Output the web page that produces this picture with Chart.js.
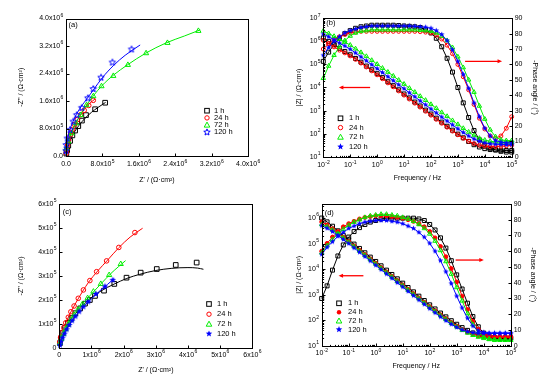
<!DOCTYPE html>
<html><head><meta charset="utf-8">
<script src="https://cdn.jsdelivr.net/npm/chart.js@4/dist/chart.umd.min.js"></script>
<style>
html,body{margin:0;padding:0;background:#fff;}
#wrap{position:relative;width:543px;height:383px;overflow:hidden;}
#wrap canvas{position:absolute;left:0;top:0;}
</style></head><body>
<div id="wrap">
<canvas id="ca" width="543" height="383"></canvas>
<canvas id="cb" width="543" height="383"></canvas>
<canvas id="cc" width="543" height="383"></canvas>
<canvas id="cd" width="543" height="383"></canvas>
</div>
<script>
// ================= DATA =================
const seriesNames = ['1 h', '24 h', '72 h', '120 h'];

// ---- Panel (a): Nyquist  [Z', -Z''] in ohm.cm2 ----
const a1h   = [[8.6e5,1.55e6],[6.4e5,1.36e6],[4.4e5,1.19e6],[3.5e5,1.03e6],[2.7e5,8.7e5],[2.0e5,7.4e5],[1.4e5,6.0e5],[9e4,4.4e5],[5e4,3.0e5],[2.5e4,1.7e5],[8e3,7e4]];
const a24h  = [[6.0e5,1.62e6],[5.0e5,1.47e6],[4.0e5,1.33e6],[3.2e5,1.2e6],[2.5e5,1.06e6],[1.9e5,9.2e5],[1.4e5,7.7e5],[1.0e5,6.2e5],[6e4,4.7e5],[3.5e4,3.2e5],[1.5e4,1.8e5],[5e3,8e4]];
const a72h  = [[2.91e6,3.64e6],[2.23e6,3.29e6],[1.76e6,2.99e6],[1.36e6,2.65e6],[1.04e6,2.33e6],[7.8e5,2.03e6],[6.0e5,1.74e6],[4.5e5,1.48e6],[3.2e5,1.19e6],[2.2e5,9.5e5],[1.25e5,6.6e5],[5e4,4.2e5],[1e4,2.2e5]];
const a120h = [[1.44e6,3.1e6],[1.02e6,2.72e6],[7.7e5,2.28e6],[6.0e5,1.95e6],[4.8e5,1.68e6],[3.45e5,1.4e6],[2.35e5,1.19e6],[1.6e5,1.0e6],[8.8e4,7.6e5],[3e4,5.1e5],[5e3,3.2e5],[0,1.5e5]];
const a1hFit   = [[0,0],[2e4,1.2e5],[5e4,2.9e5],[1e5,4.8e5],[1.8e5,6.9e5],[2.8e5,8.8e5],[4.2e5,1.1e6],[5.6e5,1.27e6],[7e5,1.41e6],[8.7e5,1.56e6]];
const a24hFit  = [[0,0],[1.5e4,1.5e5],[5e4,3.6e5],[1e5,5.9e5],[1.8e5,8.6e5],[2.8e5,1.11e6],[4e5,1.35e6],[5.2e5,1.53e6],[6.4e5,1.66e6]];
const a72hFit  = [[0,0],[1e4,1.8e5],[5e4,4.2e5],[1.3e5,7.2e5],[2.4e5,1.02e6],[4e5,1.38e6],[6e5,1.75e6],[8e5,2.06e6],[1.05e6,2.36e6],[1.35e6,2.65e6],[1.75e6,2.99e6],[2.2e6,3.29e6],[2.6e6,3.49e6],[2.95e6,3.67e6]];
const a120hFit = [[0,0],[8e3,2.2e5],[3.5e4,5e5],[9e4,7.8e5],[1.7e5,1.05e6],[2.9e5,1.35e6],[4.4e5,1.63e6],[6e5,1.92e6],[8e5,2.28e6],[1.05e6,2.64e6],[1.3e6,2.93e6],[1.63e6,3.23e6]];

// ---- Panel (c): Nyquist ----
const c1h   = [[4.27e6,3.56e5],[3.62e6,3.46e5],[3.03e6,3.29e5],[2.53e6,3.14e5],[2.09e6,2.93e5],[1.71e6,2.67e5],[1.39e6,2.39e5],[1.11e6,2.17e5],[9.5e5,2.0e5],[8e5,1.85e5],[6.5e5,1.65e5],[5e5,1.45e5],[3.8e5,1.25e5],[2.7e5,1.05e5],[1.8e5,8.5e4],[1e5,6.2e4],[5e4,4e4],[2e4,2e4]];
const c24h  = [[2.35e6,4.81e5],[1.85e6,4.19e5],[1.47e6,3.63e5],[1.16e6,3.18e5],[9.5e5,2.81e5],[7.5e5,2.42e5],[5.9e5,2.07e5],[4.6e5,1.75e5],[3.6e5,1.51e5],[2.8e5,1.28e5],[2.0e5,1.05e5],[1.4e5,8.5e4],[8e4,6.5e4],[4e4,4.5e4],[1e4,2.5e4]];
const c72h  = [[1.91e6,3.5e5],[1.55e6,3.04e5],[1.29e6,2.67e5],[1.06e6,2.35e5],[8.8e5,2.08e5],[7.2e5,1.83e5],[5.8e5,1.6e5],[4.6e5,1.38e5],[3.6e5,1.17e5],[2.7e5,9.7e4],[1.9e5,7.8e4],[1.2e5,5.8e4],[6e4,3.8e4],[2e4,2e4]];
const c120h = [[1.66e6,2.83e5],[1.42e6,2.56e5],[1.14e6,2.25e5],[9e5,1.93e5],[7.5e5,1.72e5],[6.2e5,1.52e5],[5e5,1.32e5],[4e5,1.14e5],[3.1e5,9.6e4],[2.3e5,7.8e4],[1.6e5,6e4],[1e5,4.3e4],[5e4,2.7e4],[2e4,1.2e4]];
const c1hFit   = [[0,0],[5e4,3e4],[1.5e5,6.5e4],[3.3e5,1.15e5],[5.5e5,1.5e5],[7.5e5,1.8e5],[1.0e6,2.1e5],[1.3e6,2.38e5],[1.7e6,2.66e5],[2.1e6,2.9e5],[2.5e6,3.07e5],[3.0e6,3.23e5],[3.5e6,3.32e5],[4.0e6,3.35e5],[4.3e6,3.33e5],[4.48e6,3.28e5]];
const c24hFit  = [[0,1e4],[2e4,3.5e4],[8e4,6.5e4],[2e5,1.05e5],[3.6e5,1.5e5],[6e5,2.08e5],[9e5,2.72e5],[1.2e6,3.22e5],[1.5e6,3.66e5],[1.85e6,4.18e5],[2.2e6,4.62e5],[2.59e6,4.99e5]];
const c72hFit  = [[0,0],[5e4,3.3e4],[1.5e5,6.8e4],[3e5,1.05e5],[5e5,1.45e5],[7.5e5,1.88e5],[1.0e6,2.25e5],[1.3e6,2.68e5],[1.6e6,3.1e5],[1.85e6,3.4e5],[2.06e6,3.64e5]];
const c120hFit = [[0,0],[5e4,2.5e4],[1.5e5,5.5e4],[3e5,9.3e4],[5e5,1.32e5],[7.5e5,1.72e5],[1.0e6,2.05e5],[1.25e6,2.37e5],[1.5e6,2.65e5],[1.71e6,2.9e5]];

// ---- Bode frequencies (Hz) ----
const freqHz = [0.01,0.0158,0.0251,0.0398,0.0631,0.1,0.158,0.251,0.398,0.631,1,1.58,2.51,3.98,6.31,10,15.8,25.1,39.8,63.1,100,158,251,398,631,1000,1585,2512,3981,6310,10000,15849,25119,39811,63096,100000];

// ---- Panel (b): log10|Z| and -phase (deg) ----
const bLogZ1h   = [6.15,6.0,5.85,5.7,5.56,5.42,5.26,5.1,4.93,4.77,4.6,4.43,4.25,4.08,3.9,3.72,3.55,3.37,3.2,3.02,2.85,2.67,2.5,2.32,2.15,1.98,1.82,1.66,1.52,1.42,1.35,1.31,1.29,1.28,1.27,1.27];
const bLogZ24h  = [6.05,5.9,5.76,5.62,5.5,5.37,5.22,5.06,4.89,4.72,4.55,4.38,4.2,4.03,3.85,3.67,3.5,3.32,3.15,2.97,2.8,2.62,2.45,2.28,2.11,1.95,1.8,1.67,1.57,1.5,1.46,1.44,1.44,1.45,1.47,1.5];
const bLogZ72h  = [6.45,6.34,6.22,6.1,5.97,5.84,5.68,5.52,5.35,5.18,5.01,4.84,4.67,4.5,4.32,4.15,3.97,3.8,3.62,3.45,3.27,3.1,2.92,2.75,2.57,2.4,2.23,2.07,1.92,1.8,1.72,1.67,1.64,1.63,1.62,1.62];
const bLogZ120h = [6.32,6.2,6.07,5.93,5.8,5.66,5.5,5.33,5.16,4.99,4.82,4.65,4.47,4.3,4.12,3.95,3.77,3.6,3.42,3.25,3.07,2.9,2.72,2.55,2.38,2.21,2.05,1.9,1.77,1.67,1.6,1.56,1.54,1.53,1.52,1.52];
const bPh1h   = [62,68,73,77,80,82,83.5,84.5,85,85.5,85.5,85.5,85.5,85.5,85.3,85,84.8,84.5,84,82.5,80.5,77,71.5,64,55,45,35,25.5,17,11,7.5,5.5,4.5,3.5,3,3];
const bPh24h  = [70,73.5,76,78,79.5,80.5,81,81.5,81.5,81.5,81.5,81.5,81.5,81.5,81.5,81.5,81.5,81.5,81.3,81,80.5,79,76.5,72.5,67,60,52,43.5,34,25,18,13.5,12,13.5,18.5,26];
const bPh72h  = [51,59,66,71.5,75.5,78.5,80.5,81.5,82,82.5,82.5,82.5,82.5,82.5,82.5,82.5,82.5,82.5,82.3,82,81.5,80.5,78.5,75.5,71,65,58,50,42,33,24.5,17.5,13,11,10.5,10.5];
const bPh120h = [66,71,75,78,80.5,82,83,84,84.5,85,85,85,85,85,85,85,85,84.8,84.5,84.2,83.5,82,79.5,75.5,69.5,62,53.5,44.5,35,26,18.5,13.5,10.5,9.5,9,9];

// ---- Panel (d): log10|Z| and -phase (deg) ----
const dLogZ1h   = [6.0,5.85,5.68,5.5,5.32,5.15,4.98,4.81,4.64,4.47,4.3,4.13,3.96,3.79,3.62,3.45,3.28,3.11,2.94,2.77,2.6,2.44,2.28,2.13,1.98,1.84,1.71,1.6,1.5,1.42,1.37,1.34,1.32,1.31,1.3,1.3];
const dLogZ24h  = [5.85,5.73,5.58,5.42,5.25,5.08,4.91,4.74,4.57,4.4,4.23,4.06,3.89,3.72,3.55,3.38,3.21,3.04,2.87,2.7,2.53,2.37,2.21,2.06,1.91,1.77,1.64,1.53,1.45,1.39,1.36,1.34,1.33,1.33,1.33,1.33];
const dLogZ72h  = [5.75,5.66,5.53,5.38,5.22,5.05,4.88,4.71,4.54,4.37,4.2,4.03,3.86,3.69,3.52,3.35,3.18,3.01,2.84,2.67,2.5,2.34,2.18,2.03,1.88,1.74,1.61,1.5,1.41,1.34,1.29,1.26,1.24,1.23,1.22,1.22];
const dLogZ120h = [5.7,5.6,5.47,5.32,5.16,5.0,4.83,4.66,4.49,4.32,4.15,3.98,3.81,3.64,3.47,3.3,3.13,2.96,2.79,2.62,2.45,2.29,2.13,1.98,1.84,1.72,1.62,1.55,1.51,1.49,1.48,1.48,1.48,1.48,1.48,1.48];
const dPh1h   = [30,38,48,57,64,69,72.5,75,77,78.5,79.5,80.5,81,81,81,81,81,81,80.5,79.5,77,73.5,68.5,62,54,45,36,27,18.5,12,8,6,5,4.5,4.5,4.5];
const dPh24h  = [60,65,69,72.5,75.5,77.5,79,80.5,81.5,82,82.5,82.5,82.5,82,81.5,81,80,79,77.5,75.5,72.5,68.5,63,56.5,49,40.5,31.5,23,15.5,10.5,7.5,6.5,6,6,6,6];
const dPh72h  = [59,63.5,67.5,71,74,76.5,78.5,80,81.5,82.5,83,83.5,83.5,83,82.5,81.5,80.5,79,77,74.5,71,66.5,60.5,53.5,45.5,37,28.5,20.5,13.5,8.5,5.5,4,3.5,3.5,3.5,3.5];
const dPh120h = [58,62.5,66,69.5,72,74.5,76,77.5,78.5,79,79.5,79.5,79.5,79,78.5,77.5,76,74.5,72,69,65,60,54,47,39.5,31.5,24,17.5,12.5,9.5,8.5,8,8,8,8,8];

// ---- Tick values / labels ----
const aTicks = [0, 8e5, 1.6e6, 2.4e6, 3.2e6, 4e6];
const aTickLabels = ['0.0', '8.0x10^5', '1.6x10^6', '2.4x10^6', '3.2x10^6', '4.0x10^6'];
const cXTicks = [0, 1e6, 2e6, 3e6, 4e6, 5e6, 6e6];
const cXTickLabels = ['0', '1x10^6', '2x10^6', '3x10^6', '4x10^6', '5x10^6', '6x10^6'];
const cYTicks = [0, 1e5, 2e5, 3e5, 4e5, 5e5, 6e5];
const cYTickLabels = ['0', '1x10^5', '2x10^5', '3x10^5', '4x10^5', '5x10^5', '6x10^5'];
const freqTicks = [1e-2, 1e-1, 1, 10, 100, 1e3, 1e4, 1e5];
const freqTickLabels = ['10^-2', '10^-1', '10^0', '10^1', '10^2', '10^3', '10^4', '10^5'];
const bZTicks = [10, 100, 1e3, 1e4, 1e5, 1e6, 1e7];
const bZTickLabels = ['10^1', '10^2', '10^3', '10^4', '10^5', '10^6', '10^7'];
const dZTicks = [10, 100, 1e3, 1e4, 1e5, 1e6];
const dZTickLabels = ['10^1', '10^2', '10^3', '10^4', '10^5', '10^6'];
const phTicks = [0, 10, 20, 30, 40, 50, 60, 70, 80, 90];
const phTickLabels = ['0', '10', '20', '30', '40', '50', '60', '70', '80', '90'];

// ================= HELPERS =================
const FONT = '"Liberation Sans", Arial, Helvetica, sans-serif';
const COL = ['#000000', '#ff0000', '#00ee00', '#0000ff'];

function starCanvas(color, filled, r) {
  const s = Math.ceil(r * 2 + 3);
  const c = document.createElement('canvas'); c.width = s; c.height = s;
  const g = c.getContext('2d');
  g.beginPath();
  for (let i = 0; i < 10; i++) {
    const ang = -Math.PI / 2 + i * Math.PI / 5;
    const rr = i % 2 ? r * 0.45 : r;
    g.lineTo(s / 2 + rr * Math.cos(ang), s / 2 + rr * Math.sin(ang));
  }
  g.closePath();
  if (filled) { g.fillStyle = color; g.fill(); }
  else { g.strokeStyle = color; g.lineWidth = 1; g.stroke(); }
  return c;
}

function markerSpec(i, big, variant) {
  const k = big ? 1 : 0.85;
  if (i === 0) return { pointStyle: 'rect', radius: 3.3 * k, fill: false };
  if (i === 1) return { pointStyle: 'circle', radius: 2.3 * k, fill: variant === 'd' };
  if (i === 2) return { pointStyle: 'triangle', radius: 3.0 * k, fill: false };
  return { pointStyle: starCanvas(COL[3], variant !== 'a', 3.4 * k), radius: 3 * k, fill: true };
}

function drawMarker(ctx, i, x, y, variant) {
  const color = COL[i];
  ctx.save();
  ctx.strokeStyle = color; ctx.fillStyle = color; ctx.lineWidth = 1;
  if (i === 0) { ctx.strokeRect(x - 2.3, y - 2.3, 4.6, 4.6); }
  else if (i === 1) { ctx.beginPath(); ctx.arc(x, y, 2.2, 0, Math.PI * 2); if (variant === 'd') ctx.fill(); else ctx.stroke(); }
  else if (i === 2) { ctx.beginPath(); ctx.moveTo(x, y - 3); ctx.lineTo(x + 2.8, y + 2); ctx.lineTo(x - 2.8, y + 2); ctx.closePath(); ctx.stroke(); }
  else {
    ctx.beginPath();
    for (let k = 0; k < 10; k++) {
      const ang = -Math.PI / 2 + k * Math.PI / 5; const rr = k % 2 ? 1.5 : 3.4;
      ctx.lineTo(x + rr * Math.cos(ang), y + rr * Math.sin(ang));
    }
    ctx.closePath(); if (variant === 'a') ctx.stroke(); else ctx.fill();
  }
  ctx.restore();
}

function supText(ctx, s, x, y, align, size) {
  const i = s.indexOf('^');
  const base = i < 0 ? s : s.slice(0, i);
  const sup = i < 0 ? '' : s.slice(i + 1);
  const ss = size * 0.72;
  ctx.font = size + 'px ' + FONT;
  const wb = ctx.measureText(base).width;
  ctx.font = ss + 'px ' + FONT;
  const ws = sup ? ctx.measureText(sup).width : 0;
  const w = wb + ws;
  const x0 = align === 'right' ? x - w : (align === 'center' ? x - w / 2 : x);
  ctx.textAlign = 'left'; ctx.textBaseline = 'middle';
  ctx.font = size + 'px ' + FONT; ctx.fillText(base, x0, y);
  if (sup) { ctx.font = ss + 'px ' + FONT; ctx.fillText(sup, x0 + wb + 0.3, y - size * 0.42); }
}

function rotText(ctx, s, x, y, ang, size) {
  ctx.save(); ctx.translate(x, y); ctx.rotate(ang);
  ctx.font = size + 'px ' + FONT; ctx.textAlign = 'center'; ctx.textBaseline = 'middle';
  ctx.fillText(s, 0, 0); ctx.restore();
}

function logMinors(min, max) {
  const out = [];
  for (let e = Math.floor(Math.log10(min)); e <= Math.ceil(Math.log10(max)); e++) {
    for (let m = 2; m <= 9; m++) { const v = m * Math.pow(10, e); if (v > min && v < max) out.push(v); }
  }
  return out;
}

function drawArrow(ctx, x1, y1, x2, y2, color) {
  ctx.save(); ctx.strokeStyle = color; ctx.fillStyle = color; ctx.lineWidth = 1.3;
  ctx.beginPath(); ctx.moveTo(x1, y1); ctx.lineTo(x2, y2); ctx.stroke();
  const dir = Math.sign(x2 - x1);
  ctx.beginPath(); ctx.moveTo(x2 + dir * 2, y2); ctx.lineTo(x2 - dir * 2.5, y2 - 2); ctx.lineTo(x2 - dir * 2.5, y2 + 2); ctx.closePath(); ctx.fill();
  ctx.restore();
}

function drawDeco(chart, cfg) {
  const ctx = chart.ctx, a = chart.chartArea;
  const sx = chart.scales.x, sy = chart.scales.y, sy2 = chart.scales.y2;
  const L = Math.round(a.left) + 0.5, T = Math.round(a.top) + 0.5, R = Math.round(a.right) + 0.5, B = Math.round(a.bottom) + 0.5;
  ctx.save();
  ctx.strokeStyle = '#000'; ctx.lineWidth = 1;
  ctx.strokeRect(L, T, R - L, B - T);
  ctx.beginPath();
  const tk = (list, len, fn) => list.forEach(v => fn(v, len));
  const xt = (v, len) => { const p = Math.round(sx.getPixelForValue(v)) + 0.5; ctx.moveTo(p, B); ctx.lineTo(p, B - len); };
  const yt = (v, len) => { const p = Math.round(sy.getPixelForValue(v)) + 0.5; ctx.moveTo(L, p); ctx.lineTo(L + len, p); };
  const y2t = (v, len) => { const p = Math.round(sy2.getPixelForValue(v)) + 0.5; ctx.moveTo(R, p); ctx.lineTo(R - len, p); };
  tk(cfg.xTicks, 3, xt); tk(cfg.xMinor || [], 1.6, xt);
  tk(cfg.yTicks, 3, yt); tk(cfg.yMinor || [], 1.6, yt);
  if (sy2) tk(cfg.y2Ticks, 3, y2t);
  ctx.stroke();
  ctx.fillStyle = '#000';
  cfg.xTicks.forEach((v, i) => supText(ctx, cfg.xLabels[i], sx.getPixelForValue(v), a.bottom + cfg.xLabOff, 'center', 7));
  cfg.yTicks.forEach((v, i) => supText(ctx, cfg.yLabels[i], a.left - 3, sy.getPixelForValue(v), 'right', 7));
  if (sy2) cfg.y2Ticks.forEach((v, i) => supText(ctx, cfg.y2Labels[i], a.right + 3, sy2.getPixelForValue(v), 'left', 7));
  // axis titles
  ctx.font = '7px ' + FONT; ctx.textAlign = 'center'; ctx.textBaseline = 'middle';
  ctx.fillText(cfg.xTitle, (a.left + a.right) / 2, a.bottom + cfg.xTitleOff);
  rotText(ctx, cfg.yTitle, a.left - cfg.yTitleOff, (a.top + a.bottom) / 2, -Math.PI / 2, 7);
  if (cfg.y2Title) rotText(ctx, cfg.y2Title, a.right + cfg.y2TitleOff, (a.top + a.bottom) / 2, Math.PI / 2, 7);
  // panel label
  ctx.font = '7.5px ' + FONT; ctx.textAlign = 'left';
  ctx.fillText(cfg.panel, a.left + cfg.panelDx, a.top + cfg.panelDy);
  // legend
  cfg.legendRows.forEach((yy, i) => {
    drawMarker(ctx, i, cfg.legendMarkX, yy, cfg.variant);
    ctx.fillStyle = '#000'; ctx.font = '7.5px ' + FONT; ctx.textAlign = 'left'; ctx.textBaseline = 'middle';
    ctx.fillText(seriesNames[i], cfg.legendTextX, yy);
  });
  // arrows (data coordinates)
  (cfg.arrows || []).forEach(ar => {
    const s = ar.axis === 'y2' ? sy2 : sy;
    const yp = s.getPixelForValue(ar.y);
    drawArrow(ctx, sx.getPixelForValue(ar.from), yp, sx.getPixelForValue(ar.to), yp, '#ff0000');
  });
  ctx.restore();
}

function pairs(arr) { return arr.map(p => ({ x: p[0], y: p[1] })); }

function nyquistDatasets(points, fits, variant) {
  const ds = [];
  const ord = [4, 3, 2, 1];
  points.forEach((pts, i) => {
    const m = markerSpec(i, true, variant);
    ds.push({ data: pairs(fits[i]), showLine: true, borderColor: COL[i], borderWidth: 1, pointRadius: 0,
      cubicInterpolationMode: 'monotone', order: ord[i] + 0.5, clip: false });
    ds.push({ data: pairs(pts), showLine: false, borderColor: COL[i], pointBorderColor: COL[i],
      pointBackgroundColor: m.fill ? COL[i] : 'rgba(0,0,0,0)', pointStyle: m.pointStyle, pointRadius: m.radius,
      pointBorderWidth: 1, order: ord[i], clip: false });
  });
  return ds;
}

function bodeDatasets(zList, phList, variant) {
  const ds = [];
  const ord = [4, 3, 2, 1];
  for (let i = 0; i < 4; i++) {
    const m = markerSpec(i, false, variant);
    const common = { showLine: true, borderColor: COL[i], borderWidth: 1, pointBorderColor: COL[i],
      pointBackgroundColor: m.fill ? COL[i] : 'rgba(0,0,0,0)', pointStyle: m.pointStyle, pointRadius: m.radius,
      pointBorderWidth: 1, tension: 0, order: ord[i], clip: false };
    ds.push(Object.assign({ yAxisID: 'y', data: freqHz.map((f, k) => ({ x: f, y: Math.pow(10, zList[i][k]) })) }, common));
    ds.push(Object.assign({ yAxisID: 'y2', data: freqHz.map((f, k) => ({ x: f, y: phList[i][k] })) }, common));
  }
  return ds;
}

function makeChart(id, rect, scales, datasets, cfg) {
  return new Chart(document.getElementById(id), {
    type: 'scatter',
    data: { datasets },
    options: {
      responsive: false, animation: false, devicePixelRatio: 1, events: [],
      layout: { padding: { left: rect.l, top: rect.t, right: 543 - rect.r, bottom: 383 - rect.b } },
      scales,
      plugins: { legend: { display: false }, tooltip: { enabled: false } }
    },
    plugins: [{ id: 'deco_' + id, afterDraw(chart) { drawDeco(chart, cfg); } }]
  });
}

const zTitle = "|Z| / (\u03A9\u00B7cm\u00B2)";
const phTitle = "-Phase angle / (\u00B0)";
const nyYTitle = "-Z'' / (\u03A9\u00B7cm\u00B2)";
const nyXTitle = "Z' / (\u03A9\u00B7cm\u00B2)";

// ---------- (a) ----------
makeChart('ca', { l: 66, t: 18.5, r: 248, b: 156 },
  { x: { type: 'linear', min: 0, max: 4e6, display: false }, y: { type: 'linear', min: 0, max: 4e6, display: false } },
  nyquistDatasets([a1h, a24h, a72h, a120h], [a1hFit, a24hFit, a72hFit, a120hFit], 'a'),
  { xTicks: aTicks, xLabels: aTickLabels, yTicks: aTicks, yLabels: aTickLabels, xLabOff: 8.5,
    xTitle: nyXTitle, xTitleOff: 24, yTitle: nyYTitle, yTitleOff: 45,
    panel: '(a)', panelDx: 2.5, panelDy: 6.5, variant: 'a',
    legendMarkX: 207, legendTextX: 214, legendRows: [110.7, 117.9, 125.1, 132.3] });

// ---------- (b) ----------
makeChart('cb', { l: 323.3, t: 18.3, r: 511.7, b: 156.7 },
  { x: { type: 'logarithmic', min: 0.01, max: 1e5, display: false },
    y: { type: 'logarithmic', min: 10, max: 1e7, display: false },
    y2: { type: 'linear', min: 0, max: 90, display: false, position: 'right' } },
  bodeDatasets([bLogZ1h, bLogZ24h, bLogZ72h, bLogZ120h], [bPh1h, bPh24h, bPh72h, bPh120h], 'b'),
  { xTicks: freqTicks, xLabels: freqTickLabels, xMinor: logMinors(0.01, 1e5), yTicks: bZTicks, yLabels: bZTickLabels,
    yMinor: logMinors(10, 1e7), y2Ticks: phTicks, y2Labels: phTickLabels, xLabOff: 8.5,
    xTitle: 'Frequency / Hz', xTitleOff: 21.5, yTitle: zTitle, yTitleOff: 24, y2Title: phTitle, y2TitleOff: 23.3,
    panel: '(b)', panelDx: 3, panelDy: 5, variant: 'b',
    legendMarkX: 340.5, legendTextX: 349, legendRows: [118.3, 127.6, 137.2, 146.7],
    arrows: [{ axis: 'y', y: 1e4, from: 0.55, to: 0.045 }, { axis: 'y2', y: 62, from: 1850, to: 37000 }] });

// ---------- (c) ----------
makeChart('cc', { l: 59.3, t: 204, r: 252.3, b: 348 },
  { x: { type: 'linear', min: 0, max: 6e6, display: false }, y: { type: 'linear', min: 0, max: 6e5, display: false } },
  nyquistDatasets([c1h, c24h, c72h, c120h], [c1hFit, c24hFit, c72hFit, c120hFit], 'c'),
  { xTicks: cXTicks, xLabels: cXTickLabels, yTicks: cYTicks, yLabels: cYTickLabels, xLabOff: 7,
    xTitle: nyXTitle, xTitleOff: 22, yTitle: nyYTitle, yTitleOff: 38.6,
    panel: '(c)', panelDx: 3.5, panelDy: 8, variant: 'c',
    legendMarkX: 209, legendTextX: 217, legendRows: [304, 314.2, 324.2, 333.8] });

// ---------- (d) ----------
makeChart('cd', { l: 321.7, t: 204, r: 510.7, b: 345.7 },
  { x: { type: 'logarithmic', min: 0.01, max: 1e5, display: false },
    y: { type: 'logarithmic', min: 10, max: Math.pow(10, 6.55), display: false },
    y2: { type: 'linear', min: 0, max: 90, display: false, position: 'right' } },
  bodeDatasets([dLogZ1h, dLogZ24h, dLogZ72h, dLogZ120h], [dPh1h, dPh24h, dPh72h, dPh120h], 'd'),
  { xTicks: freqTicks, xLabels: freqTickLabels, xMinor: logMinors(0.01, 1e5), yTicks: dZTicks, yLabels: dZTickLabels,
    yMinor: logMinors(10, Math.pow(10, 6.55)), y2Ticks: phTicks, y2Labels: phTickLabels, xLabOff: 7.5,
    xTitle: 'Frequency / Hz', xTitleOff: 20, yTitle: zTitle, yTitleOff: 22.4, y2Title: phTitle, y2TitleOff: 22.6,
    panel: '(d)', panelDx: 3, panelDy: 8.8, variant: 'd',
    legendMarkX: 339, legendTextX: 348, legendRows: [303.3, 312.3, 321, 329.5],
    arrows: [{ axis: 'y', y: 5500, from: 0.35, to: 0.05 }, { axis: 'y2', y: 54.4, from: 912, to: 8500 }] });
</script>
</body></html>
